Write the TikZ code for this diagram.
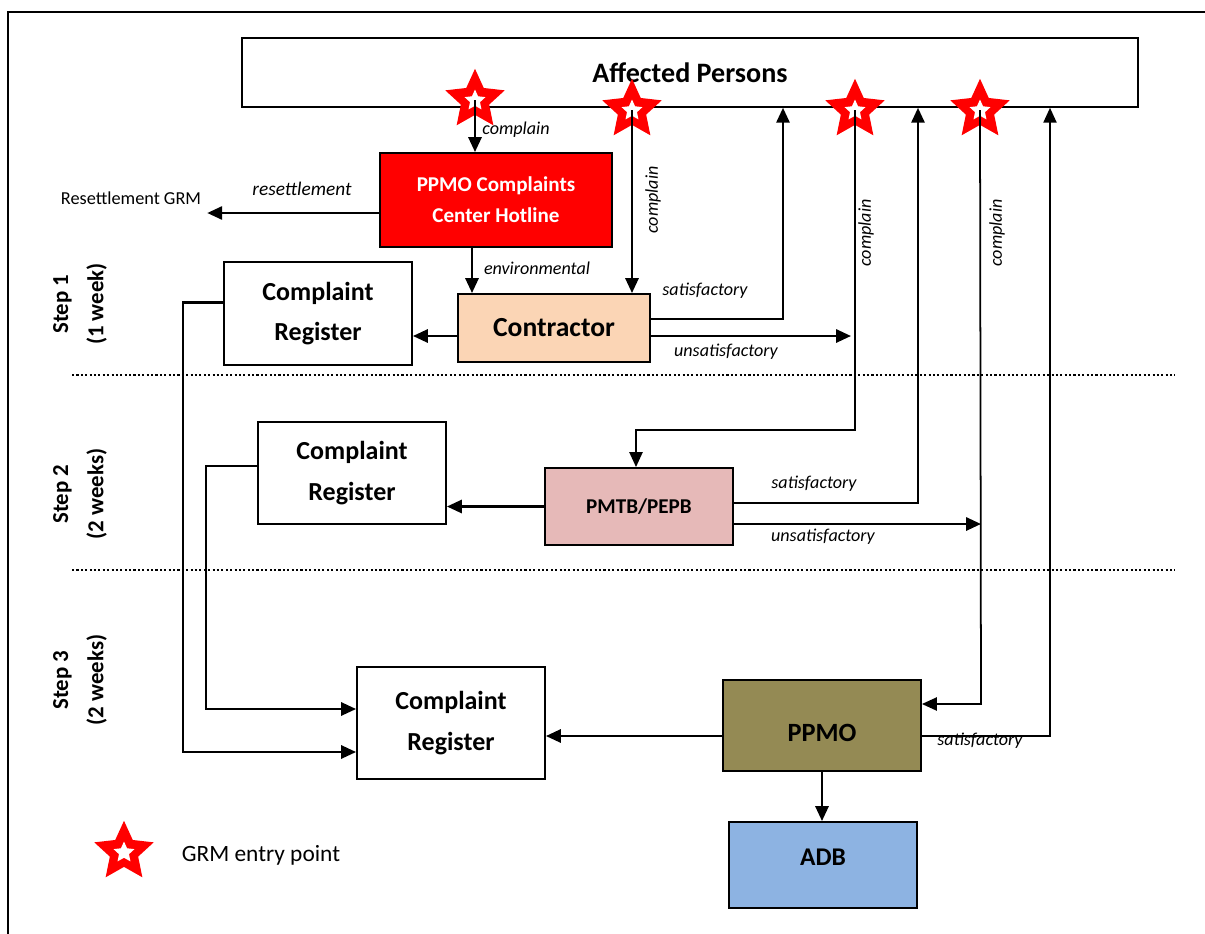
\documentclass[tikz,border=0pt]{standalone}
\usepackage{fontspec}
\setmainfont{Carlito}
\usetikzlibrary{arrows.meta, shapes.geometric}

\definecolor{hotred}{HTML}{FF0000}
\definecolor{peach}{HTML}{FBD5B5}
\definecolor{pmtbpink}{HTML}{E6B9B8}
\definecolor{ppmoolive}{HTML}{948A54}
\definecolor{adbblue}{HTML}{8DB3E2}

\begin{document}
\begin{tikzpicture}[x=0.02cm, y=-0.02cm,
    box/.style={draw, line width=1.1pt, align=center, inner sep=0pt},
    reg/.style={box, minimum width=3.76cm, font=\fontsize{14.8}{23}\selectfont\bfseries},
    conn/.style={line width=1.4pt, -{Triangle[length=8.5pt, width=7.5pt]}},
    thinconn/.style={conn, line width=1pt},
    lbl/.style={font=\fontsize{10.3}{12}\selectfont\itshape, inner sep=1pt},
    steplbl/.style={rotate=90, align=center, font=\fontsize{13}{20}\selectfont\bfseries},
    stepsep/.style={line width=1.2pt, dash pattern=on 1.2pt off 1.3pt},
    grmstar/.style={star, star points=5, star point ratio=2.1, fill=hotred, minimum size=1.25cm, inner sep=0pt,
      path picture={\node[star, star points=5, star point ratio=2.1, fill=white, minimum size=0.44cm, inner sep=0pt]
        at ([yshift=-0.07cm]path picture bounding box.center) {};}}]
\useasboundingbox (0,0) rectangle (1205,934);

% frame
\draw[line width=1.1pt] (1205,12) -- (8,12) -- (8,934);

% step bands
\draw[stepsep] (72,375) -- (1175,375);
\draw[stepsep] (72,570) -- (1175,570);
\node[steplbl] (step1) at (80,304) {Step 1\\(1 week)};
\node[steplbl] (step2) at (80,494) {Step 2\\(2 weeks)};
\node[steplbl] (step3) at (80,680) {Step 3\\(2 weeks)};

% boxes
\node[box, line width=0.9pt, minimum width=17.92cm, minimum height=1.38cm, font=\fontsize{16}{18}\selectfont\bfseries] (ap) at (690,72.5) {Affected Persons};
\node[box, fill=hotred, text=white, minimum width=4.64cm, minimum height=1.88cm, font=\fontsize{12}{17.6}\selectfont\bfseries] (hotline) at (496,200) {PPMO Complaints\\Center Hotline};
\node[box, fill=peach, minimum width=3.84cm, minimum height=1.36cm, font=\fontsize{15.7}{18}\selectfont\bfseries] (contractor) at (554,328) {Contractor};
\node[reg, minimum height=2.06cm] (regA) at (318,313.5) {Complaint\\Register};
\node[reg, minimum height=2.04cm] (regB) at (352,473) {Complaint\\Register};
\node[reg, minimum height=2.24cm] (regC) at (451,723) {Complaint\\Register};
\node[box, fill=pmtbpink, minimum width=3.76cm, minimum height=1.54cm, font=\fontsize{12}{14}\selectfont\bfseries] (pmtb) at (639,506.5) {PMTB/PEPB};
\node[box, fill=ppmoolive, minimum width=3.96cm, minimum height=1.82cm, text height=18.6pt, text depth=0pt, font=\fontsize{15}{18}\selectfont\bfseries] (ppmo) at (822,725.5) {PPMO};
\node[box, fill=adbblue, minimum width=3.76cm, minimum height=1.72cm, text height=9.3pt, text depth=9pt, font=\fontsize{14.5}{18}\selectfont\bfseries] (adb) at (823,865) {ADB};

\node[font=\fontsize{10.4}{12}\selectfont] (rgrm) at (131,198) {Resettlement GRM};

% entry points
\node[grmstar] (s1) at (475,100) {};
\node[grmstar] (s2) at (632,110) {};
\node[grmstar] (s3) at (855,110) {};
\node[grmstar] (s4) at (980,110) {};
\node[grmstar] (s0) at (124,852) {};
\node[font=\fontsize{13.3}{15}\selectfont] (legend) at (261,855) {GRM entry point};

% step 1
\draw[conn] (s1.center) -- (s1 |- hotline.north);
\draw[conn] ([yshift=-0.26cm]hotline.west) coordinate (h0) -- (h0 -| rgrm.east);
\draw[conn] ([xshift=-0.48cm]hotline.south) coordinate (h1) -- (h1 |- contractor.north);
\draw[conn] (s2.center) -- (s2 |- contractor.north);
\draw[conn] ([yshift=-0.16cm]contractor.west) coordinate (c0) -- (c0 -| regA.east);
\coordinate (satA) at (783,319);
\coordinate (unsA) at (851,336);
\draw[conn] (contractor.east |- satA) -- (satA) -- (satA |- ap.south);
\draw[conn] (contractor.east |- unsA) -- (unsA);
\coordinate (busA) at (183,752);
\draw[conn] ([yshift=0.22cm]regA.west) -| (busA) -- (busA -| regC.west);

% step 2
\coordinate (pmtbIn) at (636,430);
\draw[thinconn] (s3.center) |- (pmtbIn) -- (pmtbIn |- pmtb.north);
\draw[conn] (pmtb.west) -- (pmtb.west -| regB.east);
\coordinate (busB) at (206,709);
\draw[conn] ([yshift=0.14cm]regB.west) -| (busB) -- (busB -| regC.west);
\coordinate (satB) at (918,503);
\coordinate (unsB) at (981,524);
\draw[conn] (pmtb.east |- satB) -- (satB) -- (satB |- ap.south);
\draw[conn] (pmtb.east |- unsB) -- (unsB);

% step 3
\coordinate (ppmoIn) at (981,704);
\draw[thinconn] (s4.center) -- (ppmoIn) -- (ppmoIn -| ppmo.east);
\coordinate (satC) at (1050,736);
\draw[thinconn] (ppmo.east |- satC) -- (satC) -- (satC |- ap.south);
\draw[conn] (ppmo.west |- satC) -- (regC.east |- satC);
\draw[conn] (ppmo.south) -- (ppmo.south |- adb.north);

% labels
\node[lbl] (lcA) at (516,130) {complain};
\node[lbl, font=\fontsize{11}{13}\selectfont\itshape] (lres) at (302,189) {resettlement};
\node[lbl] (lenv) at (537,268) {environmental};
\node[lbl, rotate=90] (lcB) at (653,200) {complain};
\node[lbl] (lsatA) at (705,291) {satisfactory};
\node[lbl] (lunsA) at (726,352) {unsatisfactory};
\node[lbl, rotate=90] (lcC) at (866,233) {complain};
\node[lbl, rotate=90] (lcD) at (997,233) {complain};
\node[lbl] (lsatB) at (814,484) {satisfactory};
\node[lbl] (lunsB) at (823,537) {unsatisfactory};
\node[lbl] (lsatC) at (980,741) {satisfactory};
\end{tikzpicture}
\end{document}
